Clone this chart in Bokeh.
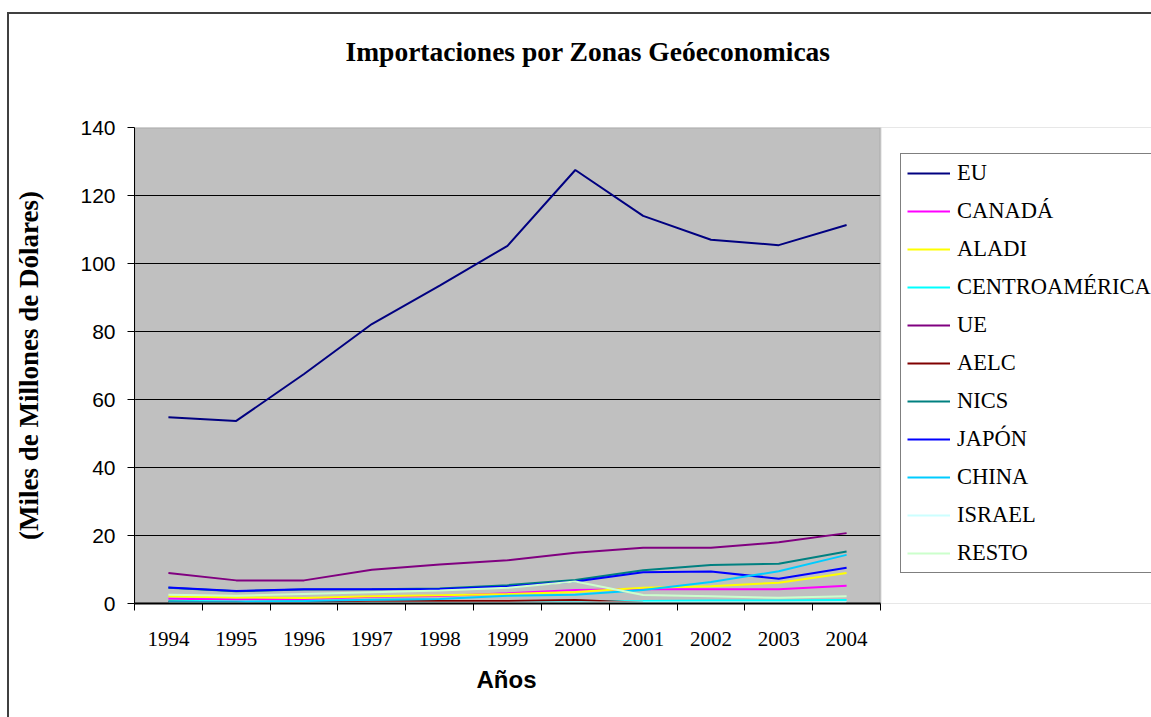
from bokeh.plotting import figure
from bokeh.models import Range1d, FixedTicker, Legend, LegendItem, BoxAnnotation, Title
from bokeh.embed import file_html
from bokeh.resources import INLINE

years = ["1994", "1995", "1996", "1997", "1998", "1999", "2000", "2001", "2002", "2003", "2004"]

eu = [54.8, 53.7, 67.5, 82.2, 93.5, 105.2, 127.5, 114.0, 107.0, 105.4, 111.3]
canada = [1.4, 1.2, 1.3, 2.0, 2.2, 3.0, 4.0, 4.2, 4.2, 4.2, 5.2]
aladi = [2.1, 1.8, 1.6, 2.1, 2.4, 2.8, 3.4, 4.6, 5.1, 6.1, 9.0]
centroamerica = [0.8, 0.6, 0.6, 0.7, 0.7, 0.7, 0.6, 0.7, 0.9, 0.9, 1.0]
ue = [9.0, 6.8, 6.8, 9.9, 11.5, 12.7, 14.9, 16.4, 16.4, 18.0, 20.7]
aelc = [0.5, 0.4, 0.5, 0.6, 0.7, 0.7, 1.0, 0.2, 0.1, 0.1, 0.1]
nics = [4.6, 3.6, 4.1, 4.2, 4.4, 5.4, 6.9, 9.8, 11.3, 11.7, 15.3]
japon = [4.7, 3.7, 4.2, 4.2, 4.3, 5.0, 6.5, 9.2, 9.4, 7.3, 10.5]
china = [0.4, 0.4, 0.7, 1.1, 1.3, 2.3, 2.6, 4.0, 6.3, 9.5, 14.3]
israel = [0.1, 0.1, 0.1, 0.2, 0.2, 0.2, 0.3, 0.3, 0.3, 0.3, 0.4]
resto = [2.6, 2.3, 2.8, 3.3, 3.8, 4.6, 6.5, 2.5, 2.1, 1.7, 2.1]

series_names = ["EU", "CANADÁ", "ALADI", "CENTROAMÉRICA", "UE", "AELC", "NICS",
                "JAPÓN", "CHINA", "ISRAEL", "RESTO"]
series_values = [eu, canada, aladi, centroamerica, ue, aelc, nics, japon, china, israel, resto]
series_colors = ["#000080", "#FF00FF", "#FFFF00", "#00FFFF", "#800080", "#800000",
                 "#008080", "#0000FF", "#00CCFF", "#CCFFFF", "#CCFFCC"]

y_ticks = [0, 20, 40, 60, 80, 100, 120, 140]
y_max = 140

SERIF = "Liberation Serif"
SANS = "Liberation Sans"

xs = list(range(len(years)))
n = len(years)

W, H = 1151, 717
LEFT, TOP, BOTTOM = 134, 127, 114
PLOT_W = 746                       # width of the grey plotting area
px_per_cat = PLOT_W / n
x_end = -0.5 + (W - LEFT) / px_per_cat

p = figure(width=W, height=H, output_backend="svg", toolbar_location=None, title=None,
           x_range=Range1d(-0.5, x_end), y_range=Range1d(0, y_max),
           min_border_left=LEFT, min_border_right=0, min_border_top=TOP,
           min_border_bottom=BOTTOM)
p.styles = {"background": "linear-gradient(#404040,#404040) 7px 12px / 100% 2px no-repeat, "
                          "linear-gradient(#404040,#404040) 7px 12px / 2px 100% no-repeat, white"}

p.background_fill_color = "#C0C0C0"
p.border_fill_color = None
p.outline_line_color = None

# title (spacer keeps it away from the plotting area)
spacer = Title(text=" ", text_font_size="1px", standoff=58)
p.add_layout(spacer, "above")
main_title = Title(text="Importaciones por Zonas Geóeconomicas", text_font=SERIF,
                   text_font_style="bold", text_font_size="27.5px", text_color="black",
                   align="left", offset=211, standoff=0)
p.add_layout(main_title, "above")

# x axis
xa = p.xaxis[0]
xa.bounds = (-0.5, n - 0.5)
xa.ticker = FixedTicker(ticks=xs, minor_ticks=[i - 0.5 for i in range(n + 1)])
xa.major_label_overrides = {i: y for i, y in enumerate(years)}
xa.major_tick_out = 0
xa.major_tick_in = 0
xa.minor_tick_out = 7
xa.minor_tick_in = 0
xa.minor_tick_line_color = "black"
xa.axis_line_color = "black"
xa.axis_line_width = 2
xa.major_label_text_font = SERIF
xa.major_label_text_font_size = "21px"
xa.major_label_text_color = "black"
xa.major_label_standoff = 21

# x axis title, centred under the grey plotting area
x_title = Title(text="Años", text_font=SANS, text_font_style="bold",
                text_font_size="24px", text_color="black",
                align="left", offset=342, standoff=30)
p.add_layout(x_title, "below")

# y axis
ya = p.yaxis[0]
ya.ticker = FixedTicker(ticks=y_ticks)
ya.major_tick_out = 7
ya.major_tick_in = 0
ya.major_tick_line_color = "black"
ya.minor_tick_line_color = None
ya.axis_line_color = "black"
ya.axis_line_width = 1
ya.major_label_text_font = SANS
ya.major_label_text_font_size = "21px"
ya.major_label_text_color = "black"
ya.major_label_standoff = 12
ya.axis_label = "(Miles de Millones de Dólares)"
ya.axis_label_text_font = SERIF
ya.axis_label_text_font_style = "bold"
ya.axis_label_text_font_size = "27px"
ya.axis_label_text_color = "black"
ya.axis_label_standoff = 33

p.xgrid.grid_line_color = None
p.ygrid.ticker = FixedTicker(ticks=y_ticks[1:-1])
p.ygrid.cross_bounds = (-0.5, n - 0.5)
p.ygrid.grid_line_color = "black"
p.ygrid.grid_line_width = 1

# white area right of the plotting area (legend zone)
p.add_layout(BoxAnnotation(left=n - 0.5, fill_color="white", fill_alpha=1,
                           line_color=None, level="underlay"))
# grey outline of the plotting area
p.add_layout(BoxAnnotation(left=-0.5, right=n - 0.5, bottom=0, top=y_max,
                           fill_alpha=0, line_color="#808080", line_width=2,
                           level="underlay"))

items = []
for name, vals, col in zip(series_names, series_values, series_colors):
    r = p.line(xs, vals, line_color=col, line_width=2)
    items.append(LegendItem(label=name, renderers=[r]))

legend = Legend(items=items, location=(766, 30))
legend.label_text_font = SERIF
legend.label_text_font_size = "22.5px"
legend.label_text_color = "black"
legend.glyph_width = 43
legend.glyph_height = 22
legend.label_height = 22
legend.spacing = 12
legend.padding = 6
legend.margin = 0
legend.label_standoff = 7
legend.border_line_color = "black"
legend.border_line_width = 1
legend.background_fill_color = "white"
legend.background_fill_alpha = 1
p.add_layout(legend, "center")

open("out.html", "w").write(file_html(p, INLINE))
